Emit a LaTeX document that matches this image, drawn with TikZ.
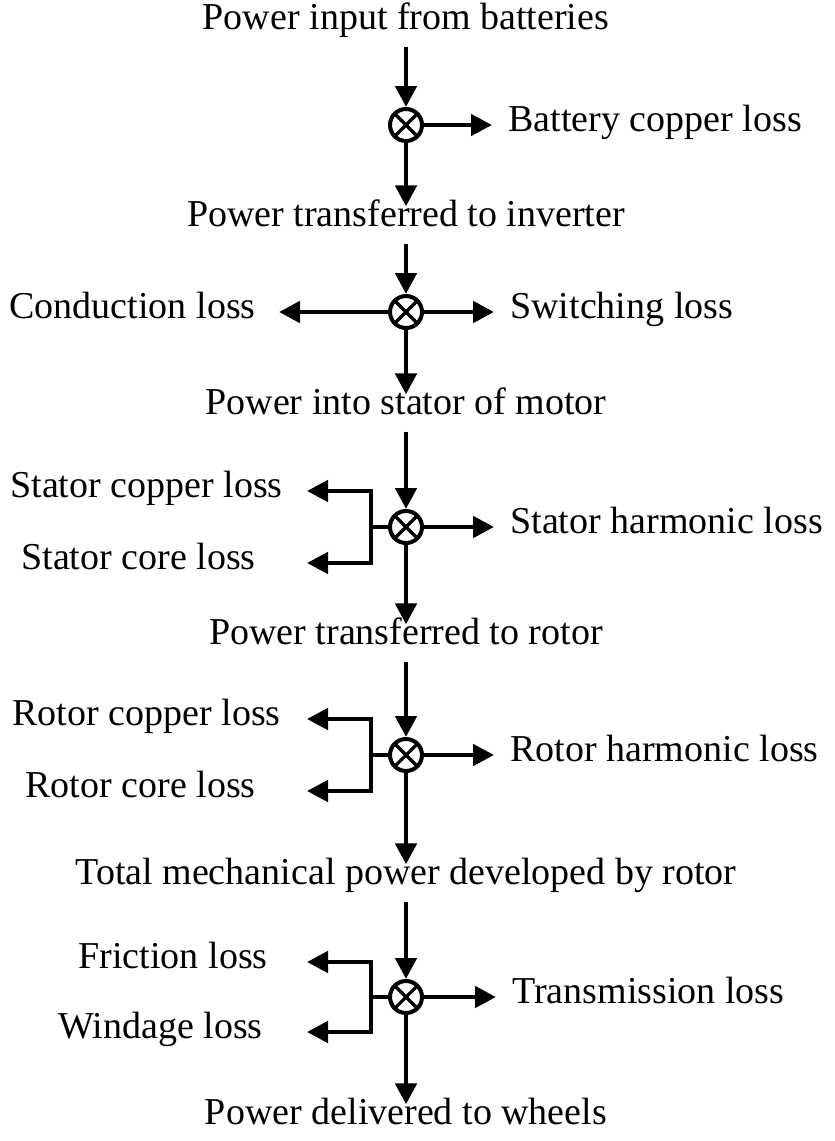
\documentclass[tikz,border=0pt]{standalone}
\usepackage{fontspec}
\setmainfont{Liberation Serif}
\usetikzlibrary{arrows.meta, positioning}

\begin{document}
\begin{tikzpicture}[x=0.5pt, y=-0.5pt, >={Triangle[length=10.5pt, width=10.5pt]},
        font=\fontsize{19}{23}\selectfont,
        flow/.style={->, line width=2.4pt},
        wire/.style={line width=2.4pt},
        ttl/.style={inner xsep=0pt, inner ysep=3pt, text height=0.7em, text depth=0.22em},
        loss/.style={inner sep=0pt, text height=0.75em, text depth=0.15em},
        mix/.style={circle, draw, line width=2pt, minimum size=16pt, inner sep=0pt,
          path picture={\draw[line width=1.6pt]
            (path picture bounding box.north west) -- (path picture bounding box.south east)
            (path picture bounding box.south west) -- (path picture bounding box.north east);}}]
        \useasboundingbox (0,0) rectangle (835,1141);
        % ---- power stages ----
        \node[ttl] (t1) at (406, 25)   {Power input from batteries};
        \node[ttl] (t2) at (406, 222)  {Power transferred to inverter};
        \node[ttl] (t3) at (406, 410)  {Power into stator of motor};
        \node[ttl] (t4) at (406, 640)  {Power transferred to rotor};
        \node[ttl] (t5) at (406, 880)  {Total mechanical power developed by rotor};
        \node[ttl] (t6) at (406, 1120) {Power delivered to wheels};
        % ---- junctions ----
        \node[mix] (c1) at (406, 125) {};
        \node[mix] (c2) at (406, 312) {};
        \node[mix] (c3) at (406, 527) {};
        \node[mix] (c4) at (406, 755) {};
        \node[mix] (c5) at (406, 997) {};
        % ---- losses on the right ----
        \node[loss, right=42pt of c1] (bcl) {Battery copper loss};
        \node[loss, right=43pt of c2] (swl) {Switching loss};
        \node[loss, right=43pt of c3] (shl) {Stator harmonic loss};
        \node[loss, right=43pt of c4] (rhl) {Rotor harmonic loss};
        \node[loss, right=44pt of c5] (trl) {Transmission loss};
        % ---- losses on the left ----
        \node[loss, left=66pt of c2] (cdl) {Conduction loss};
        \node[loss, anchor=east] (scu) at (283, 491)  {Stator copper loss};
        \node[loss, anchor=east] (sco) at (256, 563)  {Stator core loss};
        \node[loss, anchor=east] (rcu) at (281, 719)  {Rotor copper loss};
        \node[loss, anchor=east] (rco) at (256, 791)  {Rotor core loss};
        \node[loss, anchor=east] (frl) at (268, 962)  {Friction loss};
        \node[loss, anchor=east] (wdl) at (263, 1032) {Windage loss};
        % ---- branch points ----
        \coordinate (j3) at (371, 527);
        \coordinate (j4) at (371, 755);
        \coordinate (j5) at (371, 997);
        \coordinate (a3) at (307, 491);
        \coordinate (b3) at (307, 563);
        \coordinate (a4) at (307, 719);
        \coordinate (b4) at (307, 791);
        \coordinate (a5) at (307, 962);
        \coordinate (b5) at (307, 1032);
        % ---- main flow ----
        \foreach \a/\b in {t1/c1, t2/c2, t3/c3, t4/c4, t5/c5}
          \draw[flow, shorten <=3pt] (\a) -- (\b);
        \foreach \a/\b in {c1/t2, c2/t3, c3/t4, c4/t5, c5/t6}
          \draw[flow] (\a) -- (\b);
        % ---- losses ----
        \foreach \a/\b in {c1/bcl, c2/swl, c3/shl, c4/rhl, c5/trl}
          \draw[flow, shorten >=8pt] (\a) -- (\b);
        \draw[flow, shorten >=11.5pt] (c2) -- (cdl);
        \foreach \n in {3,4,5} {
          \draw[wire] (c\n) -- (j\n);
          \draw[flow] (j\n) |- (a\n);
          \draw[flow] (j\n) |- (b\n);
        }
    \end{tikzpicture}
\end{document}
